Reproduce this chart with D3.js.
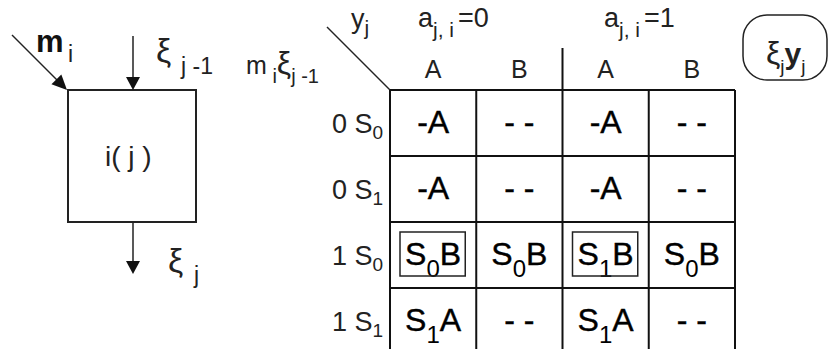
<!DOCTYPE html>
<html><head><meta charset="utf-8">
<script src="https://cdn.jsdelivr.net/npm/d3@7"></script>
<style>
body{margin:0;background:#fff}
text{font-family:"Liberation Sans",Arial,sans-serif;white-space:pre}
</style></head><body>
<svg id="c" width="829" height="349"></svg>
<script>
// ---- data ----
const colHeaders = ["A","B","A","B"];
const groupLabels = [
  [["a","n"],["j, i","s"],["=0","n"]],
  [["a","n"],["j, i","s"],["=1","n"]]
];
const rowLabels = [
  [["0 S","n"],["0","s"]],
  [["0 S","n"],["1","s"]],
  [["1 S","n"],["0","s"]],
  [["1 S","n"],["1","s"]]
];
const cellRow0 = [[["-A","n"]],[["- -","n"]],[["-A","n"]],[["- -","n"]]];
const cellRow1 = [[["-A","n"]],[["- -","n"]],[["-A","n"]],[["- -","n"]]];
const cellRow2 = [[["S","n"],["0","s"],["B","n"]],[["S","n"],["0","s"],["B","n"]],[["S","n"],["1","s"],["B","n"]],[["S","n"],["0","s"],["B","n"]]];
const cellRow3 = [[["S","n"],["1","s"],["A","n"]],[["- -","n"]],[["S","n"],["1","s"],["A","n"]],[["- -","n"]]];
const cells = [cellRow0, cellRow1, cellRow2, cellRow3];
const boxedCells = [[2,0],[2,2]];

// ---- drawing ----
const svg = d3.select("#c");
const ink = "#222";
const x = d3.scaleLinear().domain([0,4]).range([390,735]);
const y = d3.scaleLinear().domain([0,4]).range([90,354]);

function rich(sel, px, py, segs, fs, subFs, subDy, anchor, gap){
  const t = sel.append("text").attr("x",px).attr("y",py)
    .attr("font-size",fs).attr("text-anchor",anchor||"start").attr("fill",ink);
  let cur = 0, prev = null;
  segs.forEach(([s,k,ofs,w])=>{
    const target = k==="s"?subDy:0;
    const sp = t.append("tspan").attr("dy",target-cur).attr("font-size",ofs||(k==="s"?subFs:fs)).text(s);
    if(gap && prev==="s" && k!=="s") sp.attr("dx",gap);
    if(w) sp.attr("font-weight",w);
    cur = target; prev = k;
  });
  return t;
}
function arrowHead(tipX, tipY, dx, dy, len, half){
  const n = Math.hypot(dx,dy), ux=dx/n, uy=dy/n;
  const bx = tipX-ux*len, by = tipY-uy*len;
  svg.append("path")
    .attr("d",`M${tipX},${tipY}L${bx-uy*half},${by+ux*half}L${bx+uy*half},${by-ux*half}Z`)
    .attr("fill","#111");
}

// left block
svg.append("rect").attr("x",68).attr("y",90).attr("width",128).attr("height",132)
  .attr("fill","none").attr("stroke",ink).attr("stroke-width",2);
svg.append("line").attr("x1",12).attr("y1",35).attr("x2",62).attr("y2",85).attr("stroke",ink).attr("stroke-width",1.5);
arrowHead(67,90,1,1,15,7);
svg.append("line").attr("x1",133).attr("y1",36).attr("x2",133).attr("y2",82).attr("stroke",ink).attr("stroke-width",1.5);
arrowHead(133,90,0,1,13,7);
svg.append("line").attr("x1",133).attr("y1",222).attr("x2",133).attr("y2",265).attr("stroke",ink).attr("stroke-width",1.5);
arrowHead(133,274,0,1,13,7);

svg.append("text").attr("x",36).attr("y",52).attr("font-size",31).attr("font-weight","bold").attr("fill","#111").text("m");
svg.append("text").attr("x",68).attr("y",62).attr("font-size",23).attr("fill",ink).text("i");
svg.append("text").attr("x",156).attr("y",62).attr("font-size",34).attr("fill",ink).text("ξ");
svg.append("text").attr("x",181).attr("y",74).attr("font-size",23).attr("fill",ink).text("j -1");
svg.append("text").attr("x",105).attr("y",166).attr("font-size",28).attr("fill",ink).text("i( j )");
svg.append("text").attr("x",168).attr("y",272).attr("font-size",34).attr("fill",ink).text("ξ");
svg.append("text").attr("x",194).attr("y",283).attr("font-size",23).attr("fill",ink).text("j");

// corner labels
rich(svg,246,74,[["m","n",25],[" i","s"],["ξ","n",32],["j -1","s"]],25,20,9,"start");
svg.append("line").attr("x1",327).attr("y1",27).attr("x2",x(0)).attr("y2",y(0)).attr("stroke",ink).attr("stroke-width",1.5);
rich(svg,351,28,[["y","n"],["j","s"]],27,21,7,"start");

// group labels
const groupX = [418, 604];
groupLabels.forEach((g,i)=>rich(svg,groupX[i],27,g,27,21,10,"start",4));

// column headers
svg.selectAll("text.ch").data(colHeaders).enter().append("text").attr("class","ch")
  .attr("x",(d,i)=>(x(i)+x(i+1))/2).attr("y",78).attr("text-anchor","middle")
  .attr("font-size",25).attr("fill",ink).text(d=>d);

// grid
const g = svg.append("g").attr("stroke","#111").attr("stroke-width",2);
d3.range(5).forEach(i=>{
  g.append("line").attr("x1",x(0)).attr("x2",x(4)).attr("y1",y(i)).attr("y2",y(i));
  g.append("line").attr("x1",x(i)).attr("x2",x(i)).attr("y1",i===2?48:y(0)).attr("y2",y(4));
});

// row labels
rowLabels.forEach((r,i)=>rich(svg,x(0)-58,(y(i)+y(i+1))/2+9.5,r,27,19,6,"start"));

// cells
cells.forEach((row,ri)=>row.forEach((c,ci)=>{
  const t = rich(svg,(x(ci)+x(ci+1))/2,(y(ri)+y(ri+1))/2+10,c,32,24,12,"middle")
    .attr("fill","#000");
  t.selectAll("tspan").filter((d,i,n)=>+d3.select(n[i]).attr("font-size")===32)
    .attr("stroke","#000").attr("stroke-width",0.4);
}));
boxedCells.forEach(([ri,ci])=>{
  svg.append("rect").attr("x",x(ci)+10).attr("y",y(ri)+10)
    .attr("width",x(ci+1)-x(ci)-21).attr("height",y(ri+1)-y(ri)-22)
    .attr("fill","none").attr("stroke",ink).attr("stroke-width",1.5);
});

// oval legend
svg.append("rect").attr("x",743).attr("y",15).attr("width",84).attr("height",65).attr("rx",24)
  .attr("fill","none").attr("stroke",ink).attr("stroke-width",1.5);
rich(svg,766,64,[["ξ","n",32],["j","s"],["y","n",30,"bold"],["j","s"]],30,19,9,"start");
</script>
</body></html>
